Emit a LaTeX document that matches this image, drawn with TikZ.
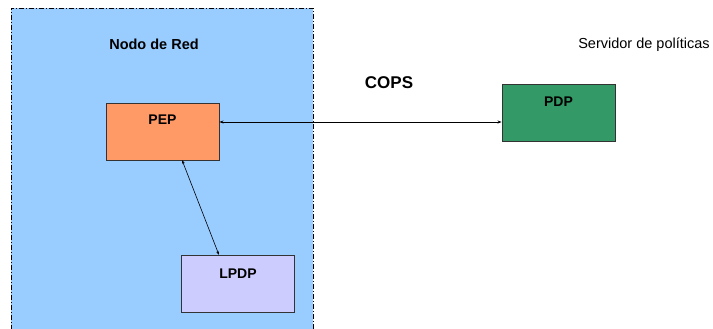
\documentclass[tikz,border=0pt]{standalone}
\usepackage{fontspec}
\setmainfont{Liberation Sans}
\usetikzlibrary{arrows.meta}
\definecolor{redzone}{HTML}{99CCFF}
\definecolor{pepfill}{HTML}{FF9966}
\definecolor{lpdpfill}{HTML}{CCCCFF}
\definecolor{pdpfill}{HTML}{339966}
\tikzset{
  box/.style={draw=black!80, line width=0.9pt, minimum width=113pt, minimum height=57pt, inner sep=0pt},
  boxlabel/.style={font=\fontsize{14}{16}\selectfont\bfseries},
  link/.style={line width=0.6pt, {Stealth[length=4pt,width=3pt]}-{Stealth[length=4pt,width=3pt]}}
}
\begin{document}
\begin{tikzpicture}[x=1pt,y=-1pt]
\useasboundingbox (0,0) rectangle (713,329);
\clip (0,0) rectangle (713,329);
% network node area
\fill[redzone] (11,8) rectangle (313,340);
\draw[line width=0.8pt, dash pattern=on 5pt off 2pt on 1pt off 2pt] (11,340) -- (11,8) -- (313,8) -- (313,340);
\node[font=\fontsize{14.5}{16}\selectfont\bfseries] (nodolbl) at (154,44) {Nodo de Red};
% boxes
\node[box, fill=pepfill] (pep) at (162.5,131.5) {};
\node[boxlabel] (peplbl) at (162.5,120) {PEP};
\node[box, fill=lpdpfill] (lpdp) at (238,283.5) {};
\node[boxlabel] (lpdplbl) at (238,274) {LPDP};
\node[box, fill=pdpfill] (pdp) at (558.5,112.5) {};
\node[boxlabel] (pdplbl) at (558.5,102) {PDP};
% labels
\node[font=\fontsize{17}{19}\selectfont\bfseries] (cops) at (389,83) {COPS};
\node[font=\fontsize{14.5}{16}\selectfont] (serv) at (644,45) {Servidor de políticas};
% connectors
\draw[link] (pep.east |- 0,122) -- (pdp.west |- 0,122);
\draw[link] (182,160) -- (219,255);
\end{tikzpicture}
\end{document}
